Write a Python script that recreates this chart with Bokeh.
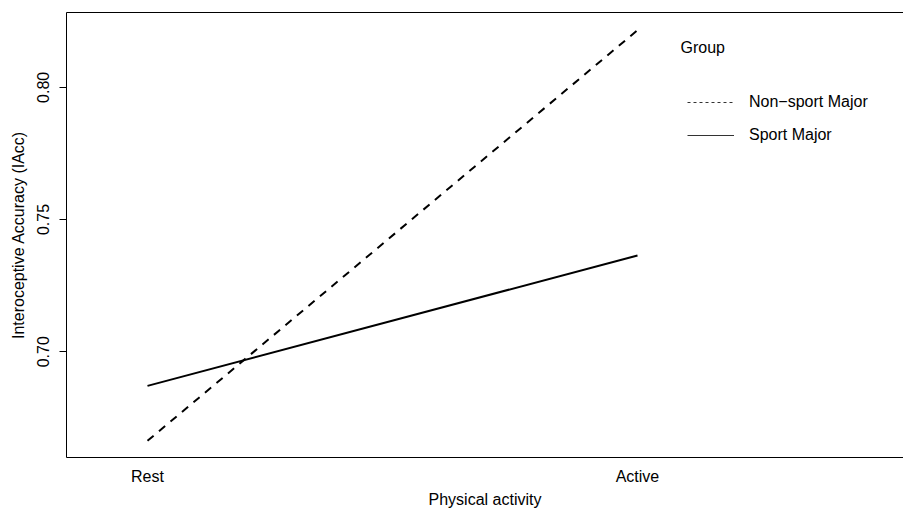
from bokeh.plotting import figure
from bokeh.models import (Range1d, FixedTicker, LinearAxis, Legend, LegendItem,
                          NumeralTickFormatter, Label)
from bokeh.embed import file_html
from bokeh.resources import INLINE

# ---- data ----
activity = ["Rest", "Active"]
groups = ["Non\u2212sport Major", "Sport Major"]
nonsport_iacc = [0.6663, 0.8216]
sport_iacc = [0.6871, 0.7364]
y_ticks = [0.70, 0.75, 0.80]

xpos = list(range(1, len(activity) + 1))
FONT = "Liberation Sans"
nan = float("nan")

p = figure(width=903, height=510, output_backend="svg", toolbar_location=None,
           x_range=Range1d(0.8347, 2.5429), y_range=Range1d(0.6600, 0.8283),
           min_border_left=66, min_border_right=0, min_border_top=12,
           min_border_bottom=50)
p.outline_line_color = None
p.xgrid.visible = False
p.ygrid.visible = False
p.background_fill_color = "white"
p.border_fill_color = "white"

r1 = p.line(xpos, nonsport_iacc, line_color="black", line_width=2, line_dash="8 7")
r2 = p.line(xpos, sport_iacc, line_color="black", line_width=2)

# legend proxies (thin lines as in the reference legend)
l1 = p.line([nan, nan], [nan, nan], line_color="#333333", line_width=1, line_dash="3 3")
l2 = p.line([nan, nan], [nan, nan], line_color="#333333", line_width=1)

# x axis
xa = p.xaxis[0]
xa.ticker = FixedTicker(ticks=xpos)
xa.major_label_overrides = {i: lab for i, lab in zip(xpos, activity)}
xa.major_tick_out = 0
xa.major_tick_in = 0
xa.minor_tick_out = 0
xa.minor_tick_in = 0
xa.axis_line_color = "black"
xa.major_label_standoff = 10
xa.major_label_text_font = FONT
xa.major_label_text_font_size = "16px"
xa.major_label_text_color = "black"
xa.axis_label = "Physical activity"
xa.axis_label_text_font = FONT
xa.axis_label_text_font_size = "16px"
xa.axis_label_text_font_style = "normal"
xa.axis_label_standoff = 3
xa.axis_label_text_color = "black"

# y axis
ya = p.yaxis[0]
ya.ticker = FixedTicker(ticks=y_ticks)
ya.formatter = NumeralTickFormatter(format="0.00")
ya.major_label_orientation = "vertical"
ya.major_tick_out = 7
ya.major_tick_in = 0
ya.minor_tick_out = 0
ya.minor_tick_in = 0
ya.axis_line_color = "black"
ya.major_tick_line_color = "black"
ya.major_label_standoff = 10
ya.major_label_text_font = FONT
ya.major_label_text_font_size = "16px"
ya.major_label_text_color = "black"
ya.axis_label = "Interoceptive Accuracy (IAcc)"
ya.axis_label_text_font = FONT
ya.axis_label_text_font_size = "16px"
ya.axis_label_text_font_style = "normal"
ya.axis_label_standoff = 8
ya.axis_label_text_color = "black"

# top border line
top = LinearAxis(ticker=FixedTicker(ticks=[]), axis_line_color="black",
                 major_tick_out=0, major_tick_in=0, minor_tick_out=0, minor_tick_in=0,
                 major_label_text_font_size="0px")
p.add_layout(top, "above")

legend = Legend(items=[LegendItem(label=groups[0], renderers=[l1]),
                       LegendItem(label=groups[1], renderers=[l2])],
                location=(621, 312),
                border_line_color=None, background_fill_alpha=0,
                label_text_font=FONT, label_text_font_size="16px",
                label_text_color="black",
                glyph_width=47, glyph_height=20, label_height=20,
                label_standoff=15, spacing=13, padding=6, margin=0)
p.add_layout(legend, "center")

title = Label(x=614, y=410, x_units="screen", y_units="screen", text="Group",
              text_font=FONT, text_font_size="16px", text_color="black",
              text_align="left", text_baseline="middle")
p.add_layout(title)

open("out.html", "w").write(file_html(p, INLINE))
